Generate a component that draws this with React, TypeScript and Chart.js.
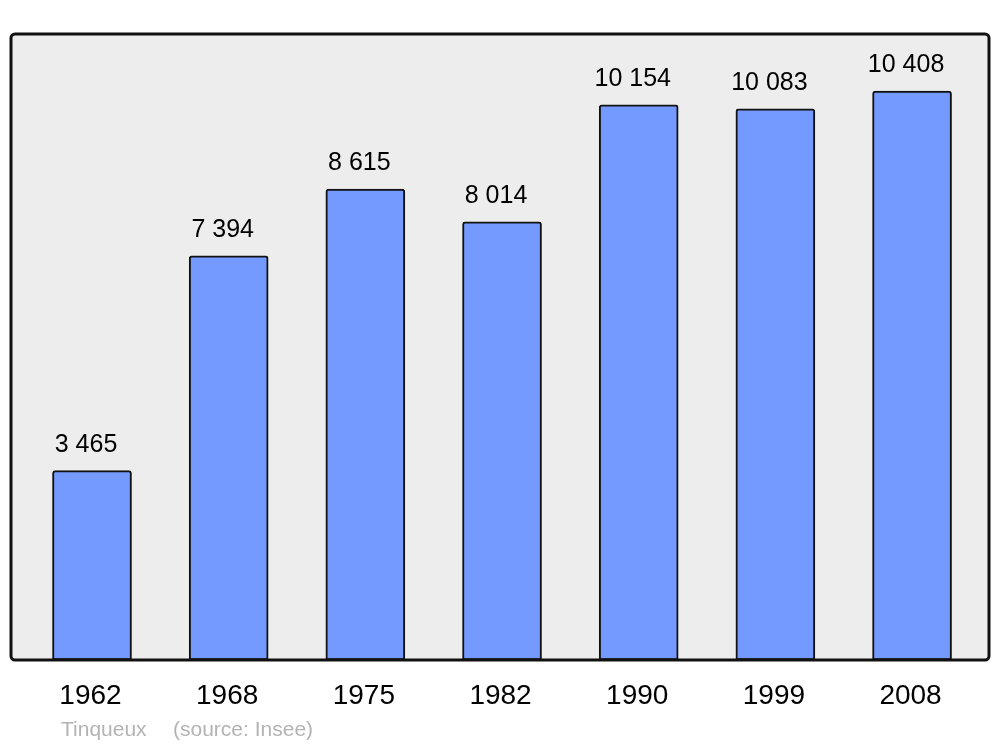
import React, { useEffect, useRef } from "react";
import { Chart, registerables } from "chart.js";

Chart.register(...registerables);

const years = ["1962", "1968", "1975", "1982", "1990", "1999", "2008"];
const population = [3465, 7394, 8615, 8014, 10154, 10083, 10408];
const valueLabels = ["3 465", "7 394", "8 615", "8 014", "10 154", "10 083", "10 408"];
const footerName = "Tinqueux";
const footerSource = "(source: Insee)";

const FONT = "'Liberation Sans', Arial, sans-serif";

export default function App() {
  const ref = useRef<HTMLCanvasElement | null>(null);

  useEffect(() => {
    document.body.style.margin = "0";
    const canvas = ref.current!;
    const boxPlugin = {
      id: "boxPlugin",
      beforeDatasetsDraw(chart: any) {
        const { ctx, chartArea: a } = chart;
        ctx.save();
        ctx.beginPath();
        ctx.roundRect(a.left, a.top, a.right - a.left, a.bottom - a.top, 4);
        ctx.fillStyle = "#ededed";
        ctx.fill();
        ctx.restore();
      },
      afterDatasetsDraw(chart: any) {
        const { ctx, chartArea: a, scales } = chart;
        ctx.save();
        ctx.beginPath();
        ctx.roundRect(a.left, a.top, a.right - a.left, a.bottom - a.top, 4);
        ctx.lineWidth = 3;
        ctx.strokeStyle = "#111111";
        ctx.stroke();

        ctx.fillStyle = "#000000";
        ctx.textAlign = "center";
        ctx.textBaseline = "alphabetic";
        ctx.font = `25px ${FONT}`;
        population.forEach((v, i) => {
          const x = scales.x.getPixelForValue(i);
          const y = scales.y.getPixelForValue(v);
          ctx.fillText(valueLabels[i], x - 6, y - 19);
        });
        ctx.font = `28px ${FONT}`;
        ctx.textBaseline = "middle";
        years.forEach((yr, i) => {
          const x = scales.x.getPixelForValue(i);
          ctx.fillText(yr, x - 1.5, a.bottom + 36);
        });
        ctx.font = `21px ${FONT}`;
        ctx.fillStyle = "#b3b3b3";
        ctx.textAlign = "left";
        ctx.fillText(footerName, 61, a.bottom + 70);
        ctx.fillText(footerSource, 173, a.bottom + 70);
        ctx.restore();
      },
    };

    const chart = new Chart(canvas, {
      type: "bar",
      data: {
        datasets: [
          {
            data: population.map((v, i) => ({ x: i, y: v })),
            backgroundColor: "#7499ff",
            borderColor: "#111111",
            borderWidth: 2,
            borderSkipped: false,
            borderRadius: { topLeft: 3, topRight: 3, bottomLeft: 0, bottomRight: 0 },
            barThickness: 79,
          },
        ],
      },
      options: {
        responsive: false,
        animation: false,
        layout: { padding: { left: 11, right: 11, top: 34, bottom: 87 } },
        plugins: { legend: { display: false }, tooltip: { enabled: false }, title: { display: false } },
        scales: {
          x: { type: "linear", min: -0.5927, max: 6.563, display: false, offset: false },
          y: { min: 0, max: 11450, display: false },
        },
      },
      plugins: [boxPlugin],
    });
    return () => chart.destroy();
  }, []);

  return <canvas ref={ref} width={1000} height={747} style={{ display: "block" }} />;
}
